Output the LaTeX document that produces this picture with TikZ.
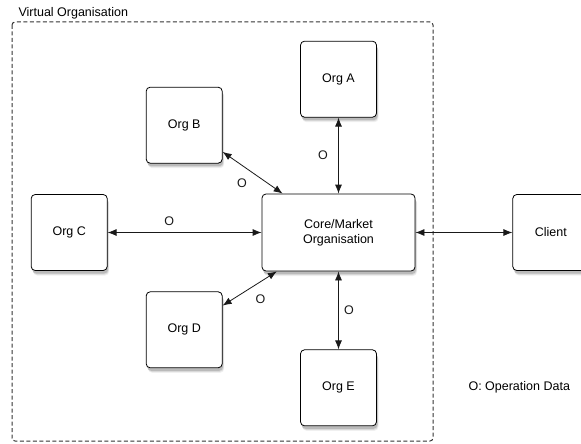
\documentclass[tikz,border=0pt]{standalone}
\usepackage{fontspec}
\setmainfont{Liberation Sans}
\usetikzlibrary{positioning,shadows,arrows.meta}

\begin{document}
\begin{tikzpicture}[x=1pt,y=1pt,
        font=\fontsize{12.5}{15}\selectfont,
        org/.style={draw, line width=0.8pt, rounded corners=4pt, fill=white,
            minimum width=76pt, minimum height=76pt, align=center,
            drop shadow={shadow xshift=2pt, shadow yshift=-5pt, opacity=0.12},
            drop shadow={shadow xshift=1.5pt, shadow yshift=-4pt, opacity=0.2},
            drop shadow={shadow xshift=1pt, shadow yshift=-3pt, opacity=0.35}},
        link/.style={{Latex[length=9pt,width=7pt]}-{Latex[length=9pt,width=7pt]},
            line width=0.8pt, black!90},
        vo/.style={dash pattern=on 4pt off 2.5pt, line width=1pt, black!80, rounded corners=3pt}]
        \useasboundingbox (0,0) rectangle (581,-444);

        % virtual organisation boundary
        \draw[vo] (12,-22) rectangle (433,-441);
        \node[anchor=west](voname) at (15,-13){Virtual Organisation};

        \node[org, minimum width=153pt, minimum height=77pt](core) at (338.5,-232.5){Core/Market\\Organisation};
        \node[org, above = 76pt of core](a){Org A};
        \node[org, above left = 30pt and 39pt of core](b){Org B};
        \node[org, left = 154pt of core](c){Org C};
        \node[org, below left = 20pt and 39pt of core](d){Org D};
        \node[org, below = 78pt of core](e){Org E};
        \node[org, right = 97pt of core](client){Client};

        \draw[link](a) -- node[left=7pt]{O}(core);
        \draw[link](b) -- node[below left=3pt]{O}(core);
        \draw[link](c) -- node[pos=0.4, above=3pt]{O}(core);
        \draw[link](d) -- node[below right=3pt]{O}(core);
        \draw[link](e) -- node[right=2pt]{O}(core);
        \draw[link](core) -- (client);

        \node[anchor=west](legend) at (465,-387){O: Operation Data};
\end{tikzpicture}
\end{document}
